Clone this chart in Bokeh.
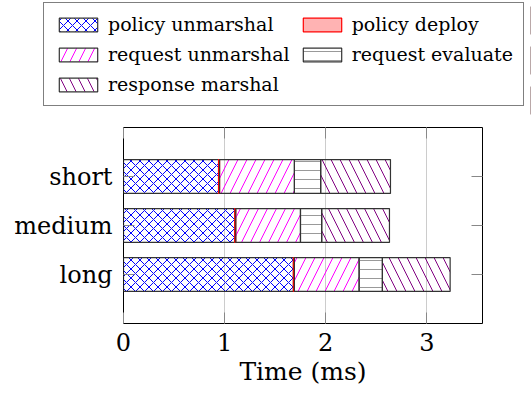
from bokeh.plotting import figure
from bokeh.layouts import column
from bokeh.models import (ColumnDataSource, FactorRange, Range1d, FixedTicker,
                          LinearAxis, CategoricalAxis, Legend, LegendItem)
from bokeh.embed import file_html
from bokeh.resources import INLINE

# ---- data ----
categories = ["long", "medium", "short"]
policy_unmarshal = [1.68, 1.10, 0.94]
policy_deploy = [0.01, 0.01, 0.01]
request_unmarshal = [0.64, 0.64, 0.74]
request_evaluate = [0.23, 0.21, 0.26]
response_marshal = [0.67, 0.67, 0.69]
series_labels = ["policy unmarshal", "policy deploy", "request unmarshal",
                 "request evaluate", "response marshal"]
x_ticks = [0, 1, 2, 3]
x_label = "Time (ms)"

FONT = "DejaVu Serif"
keys = ["pu", "pd", "ru", "re", "rm"]
fills = [None, "#ffb3b3", None, None, None]
fill_alphas = [0, 1, 0, 0, 0]
lines = ["#333333", "red", "#333333", "#333333", "#333333"]
hatches = ["x", " ", "/", "-", "\\"]
hatch_colors = ["blue", "red", "magenta", "#999999", "#800080"]
hatch_scales = [9, 9, 18, 9, 18]

source = ColumnDataSource(dict(cat=categories, pu=policy_unmarshal, pd=policy_deploy,
                               ru=request_unmarshal, re=request_evaluate,
                               rm=response_marshal))
bar_style = dict(fill_color=fills, fill_alpha=fill_alphas, line_color=lines,
                 line_width=1.2, hatch_pattern=hatches, hatch_color=hatch_colors,
                 hatch_scale=hatch_scales, hatch_weight=1)

# ---------------- main chart ----------------
p = figure(width=531, height=276,
           y_range=FactorRange(factors=categories, range_padding=0.5,
                               range_padding_units="absolute"),
           x_range=Range1d(0, 3.55),
           output_backend="svg", toolbar_location=None,
           min_border_left=123, min_border_right=49,
           min_border_top=7, min_border_bottom=73)
p.frame_align = False

p.outline_line_color = "black"
p.outline_line_width = 1
p.background_fill_color = "white"
p.border_fill_color = "white"

p.ygrid.visible = False
p.xgrid.ticker = FixedTicker(ticks=x_ticks)
p.xgrid.grid_line_color = "#cccccc"
p.xgrid.grid_line_width = 1

p.hbar_stack(keys, y="cat", height=0.69, source=source, **bar_style)

tick_col = "#888888"

xa = p.xaxis[0]
xa.ticker = FixedTicker(ticks=x_ticks)
xa.axis_line_color = None
xa.major_tick_in = 11
xa.major_tick_out = 0
xa.major_tick_line_color = tick_col
xa.minor_tick_line_color = None
xa.major_label_standoff = 9
xa.major_label_text_font = FONT
xa.major_label_text_font_size = "24px"
xa.major_label_text_color = "black"
xa.axis_label = x_label
xa.axis_label_text_font = FONT
xa.axis_label_text_font_size = "25px"
xa.axis_label_text_font_style = "normal"
xa.axis_label_text_color = "black"
xa.axis_label_standoff = 3

ya = p.yaxis[0]
ya.axis_line_color = None
ya.major_tick_in = 11
ya.major_tick_out = 0
ya.major_tick_line_color = tick_col
ya.major_label_standoff = 11
ya.major_label_text_font = FONT
ya.major_label_text_font_size = "24px"
ya.major_label_text_color = "black"

top = LinearAxis(ticker=FixedTicker(ticks=x_ticks), axis_line_color=None,
                 major_tick_in=11, major_tick_out=0, major_tick_line_color=tick_col,
                 minor_tick_line_color=None, major_label_standoff=0,
                 major_label_text_color=None)
p.add_layout(top, "above")
right = CategoricalAxis(axis_line_color=None, major_tick_in=11, major_tick_out=0,
                        major_tick_line_color=tick_col, major_label_standoff=0,
                        major_label_text_color=None)
p.add_layout(right, "right")

# ---------------- legend strip ----------------
# the same bars, kept outside this strip's visible x-range, only feed the legend swatches
lf = figure(width=531, height=120, output_backend="svg", toolbar_location=None,
            x_axis_location=None, y_axis_location=None, min_border=0,
            x_range=Range1d(-2, -1), y_range=FactorRange(factors=categories))
lf.frame_align = False
lf.outline_line_color = None
lf.grid.visible = False
lf.background_fill_color = "white"
lf.border_fill_color = "white"

swatches = lf.hbar_stack(keys, y="cat", height=0.69, source=source, **bar_style)

legend = Legend(
    items=[LegendItem(label=lab, renderers=[r], index=0)
           for lab, r in zip(series_labels, swatches)],
    location=(43, 14), orientation="horizontal", ncols=2,
    background_fill_color="white", background_fill_alpha=1,
    border_line_color="black", border_line_width=1,
    padding=10, spacing=8, margin=0,
    glyph_width=48, glyph_height=17, label_standoff=6,
    label_text_font=FONT, label_text_font_size="19px", label_text_color="black",
)
lf.add_layout(legend)

layout = column(lf, p, spacing=0)
open("out.html", "w").write(file_html(layout, INLINE))
